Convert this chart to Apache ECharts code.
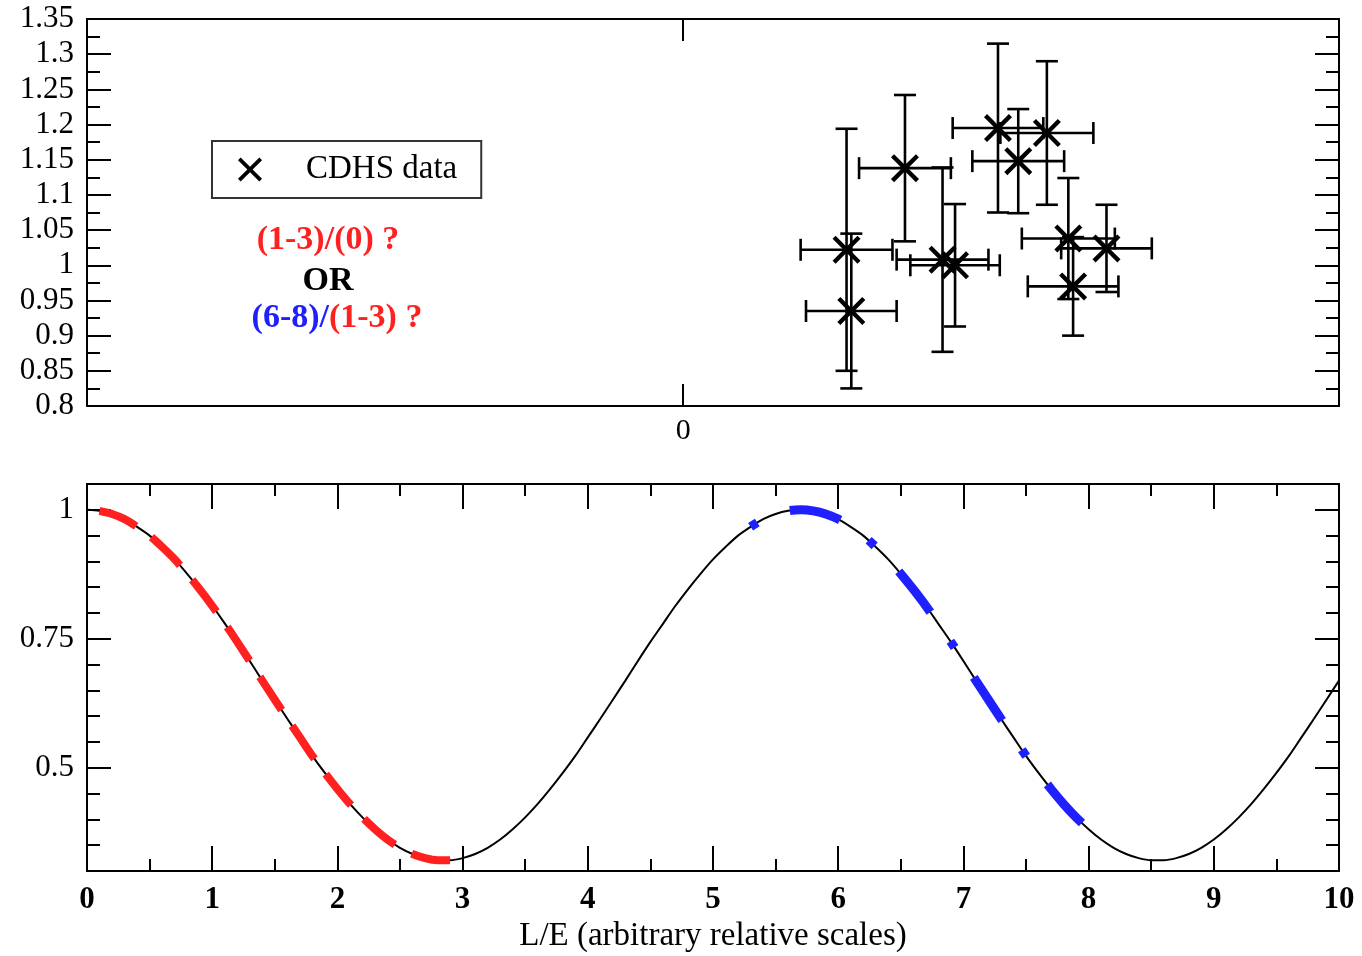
<!DOCTYPE html>
<html>
<head>
<meta charset="utf-8">
<script src="https://cdn.jsdelivr.net/npm/echarts@6/dist/echarts.min.js"></script>
<style>
html,body{margin:0;padding:0;background:#fff;}
#chart{width:1362px;height:956px;}
</style>
</head>
<body>
<div id="chart"></div>
<script>
// ---- Top panel: CDHS data points (arbitrary x units, 0 at tick) ----
const cdhsX    = [0.274, 0.282, 0.372, 0.435, 0.456, 0.528, 0.610, 0.562, 0.646, 0.710, 0.654];
const cdhsY    = [1.022, 0.935, 1.138, 1.008, 1.000, 1.195, 1.188, 1.148, 1.038, 1.024, 0.970];
const cdhsXErr = [0.077, 0.076, 0.077, 0.077, 0.075, 0.076, 0.078, 0.077, 0.078, 0.076, 0.076];
const cdhsYErr = [0.172, 0.110, 0.104, 0.131, 0.087, 0.120, 0.102, 0.074, 0.086, 0.062, 0.070];

// ---- Bottom panel: oscillation curve ----
const curveX = [0,0.1,0.2,0.3,0.4,0.5,0.6,0.7,0.8,0.9,1,1.1,1.2,1.3,1.4,1.5,1.6,1.7,1.8,1.9,
  2,2.1,2.2,2.3,2.4,2.5,2.6,2.7,2.8,2.9,3,3.1,3.2,3.3,3.4,3.5,3.6,3.7,3.8,3.9,
  4,4.1,4.2,4.3,4.4,4.5,4.6,4.7,4.8,4.9,5,5.1,5.2,5.3,5.4,5.5,5.6,5.7,5.8,5.9,
  6,6.1,6.2,6.3,6.4,6.5,6.6,6.7,6.8,6.9,7,7.1,7.2,7.3,7.4,7.5,7.6,7.7,7.8,7.9,
  8,8.1,8.2,8.3,8.4,8.5,8.6,8.7,8.8,8.9,9,9.1,9.2,9.3,9.4,9.5,9.6,9.7,9.8,9.9,10];
const curveY = [1.000,0.998,0.992,0.982,0.967,0.950,0.928,0.904,0.876,0.846,
  0.814,0.780,0.744,0.707,0.669,0.632,0.595,0.559,0.523,0.490,
  0.459,0.430,0.404,0.381,0.361,0.345,0.333,0.325,0.321,0.321,
  0.325,0.333,0.345,0.361,0.381,0.404,0.430,0.459,0.490,0.523,
  0.559,0.595,0.632,0.669,0.707,0.744,0.779,0.814,0.846,0.876,
  0.904,0.928,0.950,0.967,0.982,0.992,0.998,1.000,0.998,0.992,
  0.982,0.967,0.950,0.928,0.904,0.876,0.846,0.814,0.779,0.744,
  0.707,0.669,0.632,0.595,0.559,0.523,0.490,0.459,0.430,0.404,
  0.381,0.361,0.345,0.333,0.325,0.321,0.321,0.325,0.333,0.345,
  0.361,0.381,0.404,0.430,0.459,0.490,0.523,0.559,0.595,0.632,0.669];
const redRange  = [0.1, 2.9];
const blueRange = [5.3, 8.0];

const topYTicks = [0.8, 1.35];
const bottomYLabels = [0.5, 0.75, 1];
const topXLabels = [0];

// ---- build ----
const FONT = '"Liberation Serif", "Times New Roman", serif';
const curve = curveX.map((x, i) => [x, curveY[i]]);
const inRange = (r) => curve.filter(p => p[0] >= r[0] - 1e-9 && p[0] <= r[1] + 1e-9);
const errRows = cdhsX.map((x, i) => [x, cdhsY[i], cdhsXErr[i], cdhsYErr[i]]);
const pts = cdhsX.map((x, i) => [x, cdhsY[i]]);

const XPATH = 'path://M11,0 L50,39 L89,0 L100,11 L61,50 L100,89 L89,100 L50,61 L11,100 L0,89 L39,50 L0,11 Z';

const line = {lineStyle: {color: '#000', width: 2}};
const tickStyle = {lineStyle: {color: '#000', width: 2}};

function renderErr(params, api) {
  const x = api.value(0), y = api.value(1), ex = api.value(2), ey = api.value(3);
  const l = api.coord([x - ex, y]), r = api.coord([x + ex, y]);
  const t = api.coord([x, y + ey]), b = api.coord([x, y - ey]);
  const cap = 11;
  const st = {stroke: '#000', lineWidth: 2.6, fill: null};
  const seg = (x1, y1, x2, y2) => ({type: 'line', shape: {x1, y1, x2, y2}, style: st});
  return {type: 'group', children: [
    seg(t[0], t[1], b[0], b[1]),
    seg(l[0], l[1], r[0], r[1]),
    seg(t[0] - cap, t[1], t[0] + cap, t[1]),
    seg(b[0] - cap, b[1], b[0] + cap, b[1]),
    seg(l[0], l[1] - cap, l[0], l[1] + cap),
    seg(r[0], r[1] - cap, r[0], r[1] + cap)
  ]};
}

const chart = echarts.init(document.getElementById('chart'), null, {renderer: 'canvas'});
chart.setOption({
  animation: false,
  backgroundColor: '#fff',
  textStyle: {fontFamily: FONT, color: '#000'},
  grid: [
    {left: 87, top: 19, width: 1252, height: 387},
    {left: 87, top: 484, width: 1252, height: 387}
  ],
  legend: {
    data: ['CDHS data'],
    left: 212, top: 141,
    orient: 'horizontal',
    borderColor: '#333', borderWidth: 2, borderRadius: 0,
    padding: [12, 24, 12, 26],
    itemWidth: 24, itemHeight: 24,
    itemStyle: {color: '#000', opacity: 1},
    textStyle: {fontFamily: FONT, fontSize: 33, color: '#000', padding: [0, 0, 0, 39]},
    selectedMode: false
  },
  xAxis: [
    {gridIndex: 0, type: 'value', position: 'bottom', min: -1, max: 1.1,
     axisLine: Object.assign({onZero: false}, line),
     axisTick: Object.assign({inside: true, length: 22, customValues: topXLabels}, tickStyle),
     axisLabel: {customValues: topXLabels, fontSize: 30, margin: 10, color: '#000', fontFamily: FONT},
     splitLine: {show: false}},
    {gridIndex: 0, type: 'value', position: 'top', min: -1, max: 1.1,
     axisLine: Object.assign({onZero: false}, line),
     axisTick: Object.assign({inside: true, length: 22, customValues: topXLabels}, tickStyle),
     axisLabel: {show: false}, splitLine: {show: false}},
    {gridIndex: 1, type: 'value', position: 'bottom', min: 0, max: 10, interval: 1,
     axisLine: Object.assign({onZero: false}, line),
     axisTick: Object.assign({inside: true, length: 25}, tickStyle),
     minorTick: Object.assign({show: true, splitNumber: 2, length: 12}, tickStyle),
     axisLabel: {fontSize: 31, fontWeight: 'bold', margin: 13, color: '#000', fontFamily: FONT},
     name: 'L/E (arbitrary relative scales)', nameLocation: 'middle', nameGap: 49,
     nameTextStyle: {fontSize: 33, color: '#000', fontFamily: FONT},
     splitLine: {show: false}},
    {gridIndex: 1, type: 'value', position: 'top', min: 0, max: 10, interval: 1,
     axisLine: Object.assign({onZero: false}, line),
     axisTick: Object.assign({inside: true, length: 25}, tickStyle),
     minorTick: Object.assign({show: true, splitNumber: 2, length: 12}, tickStyle),
     axisLabel: {show: false}, splitLine: {show: false}}
  ],
  yAxis: [
    {gridIndex: 0, type: 'value', position: 'left', min: topYTicks[0], max: topYTicks[1], interval: 0.05,
     axisLine: Object.assign({onZero: false}, line),
     axisTick: Object.assign({inside: true, length: 24}, tickStyle),
     minorTick: Object.assign({show: true, splitNumber: 2, length: 13}, tickStyle),
     axisLabel: {fontSize: 31, margin: 13, color: '#000', fontFamily: FONT,
       formatter: v => String(+v.toFixed(2))},
     splitLine: {show: false}},
    {gridIndex: 0, type: 'value', position: 'right', min: topYTicks[0], max: topYTicks[1], interval: 0.05,
     axisLine: Object.assign({onZero: false}, line),
     axisTick: Object.assign({inside: true, length: 24}, tickStyle),
     minorTick: Object.assign({show: true, splitNumber: 2, length: 13}, tickStyle),
     axisLabel: {show: false}, splitLine: {show: false}},
    {gridIndex: 1, type: 'value', position: 'left', min: 0.3, max: 1.05, interval: 0.05,
     axisLine: Object.assign({onZero: false}, line),
     axisTick: Object.assign({inside: true, length: 13}, tickStyle),
     axisLabel: {customValues: bottomYLabels, fontSize: 31, margin: 13, color: '#000', fontFamily: FONT,
       formatter: v => String(+(+v).toFixed(2))},
     splitLine: {show: false}},
    {gridIndex: 1, type: 'value', position: 'left', min: 0.3, max: 1.05,
     axisLine: {show: false, onZero: false},
     axisTick: Object.assign({inside: true, length: 24, customValues: bottomYLabels}, tickStyle),
     axisLabel: {show: false}, splitLine: {show: false}},
    {gridIndex: 1, type: 'value', position: 'right', min: 0.3, max: 1.05, interval: 0.05,
     axisLine: Object.assign({onZero: false}, line),
     axisTick: Object.assign({inside: true, length: 13}, tickStyle),
     axisLabel: {show: false}, splitLine: {show: false}},
    {gridIndex: 1, type: 'value', position: 'right', min: 0.3, max: 1.05,
     axisLine: {show: false, onZero: false},
     axisTick: Object.assign({inside: true, length: 24, customValues: bottomYLabels}, tickStyle),
     axisLabel: {show: false}, splitLine: {show: false}}
  ],
  series: [
    {type: 'custom', xAxisIndex: 0, yAxisIndex: 0, renderItem: renderErr, data: errRows,
     encode: {x: 0, y: 1}, silent: true, z: 2},
    {name: 'CDHS data', type: 'scatter', xAxisIndex: 0, yAxisIndex: 0, data: pts,
     symbol: XPATH, symbolSize: 28, itemStyle: {color: '#000', opacity: 1}, z: 3},
    {type: 'line', xAxisIndex: 2, yAxisIndex: 2, data: curve, showSymbol: false, smooth: 0.3,
     lineStyle: {color: '#000', width: 2}, z: 2},
    {type: 'line', xAxisIndex: 2, yAxisIndex: 2, data: inRange(redRange), showSymbol: false, smooth: 0.3,
     lineStyle: {color: '#ff2020', width: 8, type: [40, 19], cap: 'butt'}, z: 3},
    {type: 'line', xAxisIndex: 2, yAxisIndex: 2, data: inRange(blueRange), showSymbol: false, smooth: 0.3,
     lineStyle: {color: '#2020ff', width: 9, type: [8, 35, 52, 35], cap: 'butt'}, z: 3}
  ],
  graphic: [
    {type: 'text', x: 328, y: 240, style: {text: '(1-3)/(0) ?', fill: '#ff2020',
      font: 'bold 34px "Liberation Serif"', align: 'center', verticalAlign: 'middle'}},
    {type: 'text', x: 328, y: 281, style: {text: 'OR', fill: '#000',
      font: 'bold 34px "Liberation Serif"', align: 'center', verticalAlign: 'middle'}},
    {type: 'text', x: 337, y: 318, style: {text: '{b|(6-8)/}{r|(1-3) ?}',
      align: 'center', verticalAlign: 'middle',
      font: 'bold 34px "Liberation Serif"',
      rich: {
        b: {fill: '#2020ff', fontSize: 34, fontWeight: 'bold', fontFamily: 'Liberation Serif'},
        r: {fill: '#ff2020', fontSize: 34, fontWeight: 'bold', fontFamily: 'Liberation Serif'}
      }}}
  ]
});
</script>
</body>
</html>
